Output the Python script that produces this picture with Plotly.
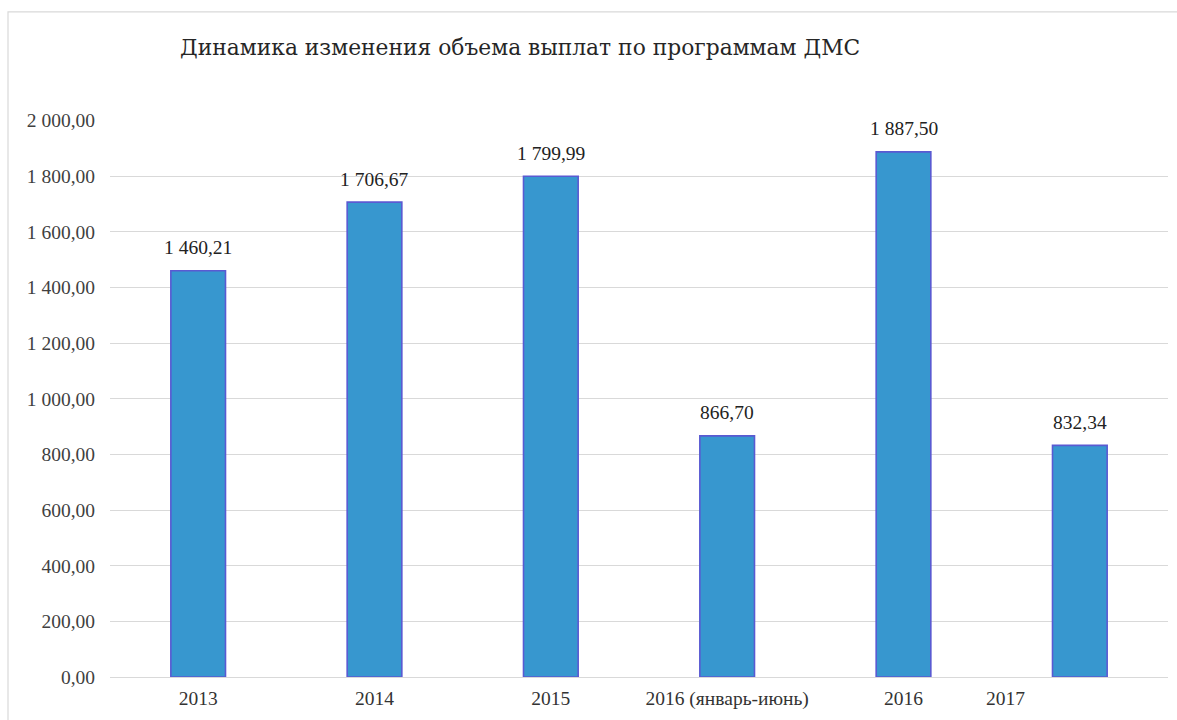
import plotly.graph_objects as go

categories = ["2013", "2014", "2015", "2016 (январь-июнь)", "2016", "2017"]
values = [1460.21, 1706.67, 1799.99, 866.70, 1887.50, 832.34]
y_ticks = [0, 200, 400, 600, 800, 1000, 1200, 1400, 1600, 1800, 2000]
title = "Динамика изменения объема выплат по программам ДМС"


def ru_fmt(v):
    s = f"{v:,.2f}"
    return s.replace(",", " ").replace(".", ",")


SERIF = "Liberation Serif, serif"
TITLE_FONT = "DejaVu Serif, serif"

fig = go.Figure()
fig.add_trace(go.Bar(
    x=categories,
    y=values,
    width=0.31,
    marker=dict(color="#3797cf", line=dict(color="#5a5ad2", width=1.6)),
    hoverinfo="x+y",
))

for i, v in enumerate(values):
    fig.add_annotation(x=i, y=v, xref="x", yref="y", text=ru_fmt(v), showarrow=False,
                       yshift=23, font=dict(family=SERIF, size=19.5, color="#222222"))

# the last category's tick label sits left of its bar in the reference
fig.add_annotation(x=4.58, y=0, xref="x", yref="y", text=categories[-1], showarrow=False,
                   yshift=-21, font=dict(family=SERIF, size=19.5, color="#333333"))

fig.update_layout(
    width=1177, height=720,
    margin=dict(l=110, r=9, t=120, b=43),
    paper_bgcolor="white", plot_bgcolor="white",
    showlegend=False,
    font=dict(family=SERIF),
    title=dict(text=title, x=180 / 1177, xanchor="left", y=1 - 47 / 720, yanchor="middle",
               font=dict(family=TITLE_FONT, size=21.8, color="#262626")),
    shapes=[dict(type="rect", xref="paper", yref="paper",
                 x0=-0.0964, x1=1.05, y0=-0.2, y1=1.194,
                 line=dict(color="#d9d9d9", width=1.2), fillcolor="rgba(0,0,0,0)", layer="below")],
)
fig.update_xaxes(
    type="category",
    range=[-0.5, 5.5],
    tickvals=categories[:-1],
    ticktext=categories[:-1],
    showgrid=False, showline=False, zeroline=False, ticks="",
    ticklabelstandoff=7,
    tickfont=dict(family=SERIF, size=19.5, color="#333333"),
)
fig.update_yaxes(
    range=[0, 2002],
    tickvals=y_ticks,
    ticktext=[ru_fmt(v) for v in y_ticks],
    showgrid=True, gridcolor="#d9d9d9", gridwidth=1.2,
    zeroline=True, zerolinecolor="#d9d9d9", zerolinewidth=1.2,
    showline=False, ticks="",
    ticklabelstandoff=14,
    tickfont=dict(family=SERIF, size=19.5, color="#404040"),
)

fig.write_html("out.html")
